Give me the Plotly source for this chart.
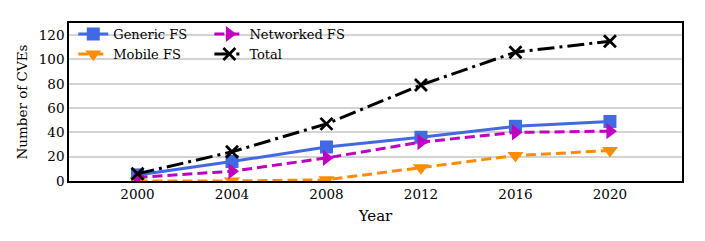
import plotly.graph_objects as go

years = [2000, 2004, 2008, 2012, 2016, 2020]
generic_fs = [5, 16, 28, 36, 45, 49]
mobile_fs = [0, 0, 1, 11, 21, 25]
networked_fs = [3, 8, 19, 32, 40, 41]
total = [6, 24, 47, 79, 106, 115]
y_ticks = [0, 20, 40, 60, 80, 100, 120]
x_ticks = [2000, 2004, 2008, 2012, 2016, 2020]

FONT = "DejaVu Serif"
fig = go.Figure()
fig.add_trace(go.Scatter(x=years, y=generic_fs, name="Generic FS", mode="lines+markers",
                         line=dict(color="#4169E1", width=3),
                         marker=dict(symbol="square", size=13, color="#4169E1"),
                         legend="legend"))
fig.add_trace(go.Scatter(x=years, y=mobile_fs, name="Mobile FS", mode="lines+markers",
                         line=dict(color="#FF8C00", width=3, dash="10px,5px"),
                         marker=dict(symbol="triangle-down", size=14, color="#FF8C00"),
                         legend="legend"))
fig.add_trace(go.Scatter(x=years, y=networked_fs, name="Networked FS", mode="lines+markers",
                         line=dict(color="#BF00BF", width=3, dash="10px,5px"),
                         marker=dict(symbol="triangle-right", size=14, color="#BF00BF"),
                         legend="legend2"))
fig.add_trace(go.Scatter(x=years, y=total, name="Total", mode="lines+markers",
                         line=dict(color="black", width=3, dash="17px,5px,3px,5px"),
                         marker=dict(symbol="x-thin-open", size=12, color="black",
                                     line=dict(width=2.8, color="black")),
                         legend="legend2"))

leg = dict(font=dict(family=FONT, size=13, color="black"), bgcolor="rgba(0,0,0,0)",
           yanchor="top", xanchor="left", tracegroupgap=0, borderwidth=0)
fig.update_layout(
    width=705, height=241,
    margin=dict(l=61, r=31, t=15, b=68, autoexpand=False),
    paper_bgcolor="white", plot_bgcolor="white",
    font=dict(family=FONT, size=13, color="black"),
    legend=dict(**leg, x=0.007, y=1.025),
    legend2=dict(**leg, x=0.229, y=1.025),
    xaxis=dict(range=[1997.1, 2023.05], tickvals=x_ticks, showgrid=False, zeroline=False,
               showline=True, linecolor="black", linewidth=1.5, mirror=True,
               ticks="", tickfont=dict(size=13.5), automargin=False,
               title=dict(text="Year", font=dict(size=15), standoff=10)),
    yaxis=dict(range=[0, 130], tickvals=y_ticks, showgrid=True, gridcolor="#d3d3d3",
               gridwidth=1.5, zeroline=False, automargin=False,
               showline=True, linecolor="black", linewidth=1.5, mirror=True,
               ticks="", tickfont=dict(size=13.5),
               title=dict(text="Number of CVEs", font=dict(size=13.5), standoff=8)),
)
fig.write_html("out.html")
